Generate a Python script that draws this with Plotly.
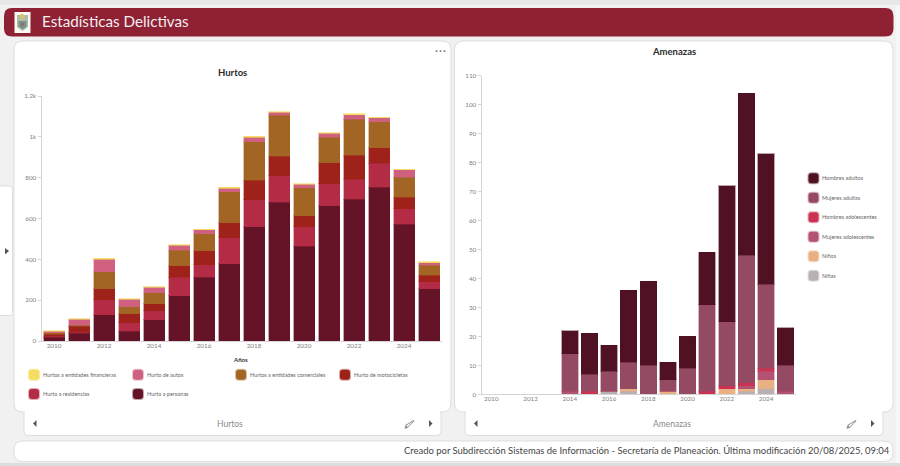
import plotly.graph_objects as go

W, H = 900, 466
FONT = "Lato"

# Hurtos por año
anios = list(range(2010, 2026))
hurto_personas = [18, 38, 129, 49, 104, 222, 312, 379, 560, 679, 463, 663, 694, 753, 571, 255]
hurto_residencias = [5, 4, 73, 41, 45, 90, 62, 127, 132, 131, 97, 108, 98, 117, 77, 36]
hurto_motocicletas = [10, 30, 53, 44, 34, 57, 68, 72, 95, 96, 54, 102, 119, 77, 56, 32]
hurtos_comerciales = [8, 6, 83, 34, 54, 75, 83, 153, 189, 199, 137, 125, 175, 127, 98, 48]
hurto_autos = [8, 28, 62, 36, 26, 25, 20, 17, 23, 15, 16, 19, 23, 20, 36, 13]
hurtos_financieras = [1, 4, 6, 3, 3, 3, 3, 6, 5, 3, 4, 3, 4, 3, 4, 3]

# Amenazas por año
hombres_adultos = [0, 0, 0, 0, 8, 14, 9, 25, 29, 6, 11, 18, 47, 56, 45, 13]
mujeres_adultas = [0, 0, 0, 0, 13, 6, 7, 9, 10, 4, 9, 30, 22, 44, 29, 9]
hombres_adolescentes = [0, 0, 0, 0, 0, 1, 0, 0, 0, 0, 0, 1, 1, 1, 1, 0]
mujeres_adolescentes = [0, 0, 0, 0, 1, 0, 0, 0, 0, 0, 0, 0, 0, 1, 3, 1]
ninos = [0, 0, 0, 0, 0, 0, 0, 1, 0, 1, 0, 0, 2, 1, 3, 0]
ninas = [0, 0, 0, 0, 0, 0, 1, 1, 0, 0, 0, 0, 0, 1, 2, 0]

series_hurtos = [
    ("Hurto a personas", hurto_personas, "#651327", "rgba(101,19,39,0.38)"),
    ("Hurto a residencias", hurto_residencias, "#b32b45", "rgba(179,43,69,0.38)"),
    ("Hurto de motocicletas", hurto_motocicletas, "#9e2219", "rgba(158,34,25,0.38)"),
    ("Hurtos a entidades comerciales", hurtos_comerciales, "#a26524", "rgba(162,101,36,0.38)"),
    ("Hurto de autos", hurto_autos, "#d06080", "rgba(208,96,128,0.38)"),
    ("Hurtos a entidades financieras", hurtos_financieras, "#f5dc62", "rgba(245,220,98,0.6)"),
]
series_amenazas = [
    ("Niñas", ninas, "#b8b0b3", "rgba(184,176,179,0.38)"),
    ("Niños", ninos, "#e9b084", "rgba(233,176,132,0.38)"),
    ("Mujeres adolescentes", mujeres_adolescentes, "#b35272", "rgba(179,82,114,0.38)"),
    ("Hombres adolescentes", hombres_adolescentes, "#cc3352", "rgba(204,51,82,0.38)"),
    ("Mujeres adultas", mujeres_adultas, "#944a62", "rgba(148,74,98,0.38)"),
    ("Hombres adultos", hombres_adultos, "#501123", "rgba(80,17,35,0.38)"),
]

marca_y = ["0", "200", "400", "600", "800", "1k", "1,2k"]
marca_y_val = [0, 200, 400, 600, 800, 1000, 1200]


def px(x):
    return x / W


def py(y):
    return 1 - y / H


def round_path(x0, y0, x1, y1, r):
    """Rounded rectangle given in page pixels, as a paper-space SVG path."""
    def p(a, b):
        return f"{px(a):.5f},{py(b):.5f}"
    return (
        f"M{p(x0 + r, y0)} L{p(x1 - r, y0)} Q{p(x1, y0)} {p(x1, y0 + r)} "
        f"L{p(x1, y1 - r)} Q{p(x1, y1)} {p(x1 - r, y1)} L{p(x0 + r, y1)} "
        f"Q{p(x0, y1)} {p(x0, y1 - r)} L{p(x0, y0 + r)} Q{p(x0, y0)} {p(x0 + r, y0)} Z"
    )


def poly_path(points):
    return "M" + " L".join(f"{px(a):.5f},{py(b):.5f}" for a, b in points) + " Z"


shapes = []


def box(x0, y0, x1, y1, r, fill, line=None, lw=1):
    shapes.append(dict(
        type="path", path=round_path(x0, y0, x1, y1, r), xref="paper", yref="paper",
        fillcolor=fill, line=dict(color=line or "rgba(0,0,0,0)", width=lw if line else 0),
        layer="below",
    ))


def poly(points, fill):
    shapes.append(dict(
        type="path", path=poly_path(points), xref="paper", yref="paper",
        fillcolor=fill, line=dict(width=0), layer="below",
    ))


EDGE = "#dedede"
# Page background bands
shapes.append(dict(type="rect", xref="paper", yref="paper", x0=0, x1=1, y0=py(5), y1=1,
                   fillcolor="#e7e7e7", line=dict(width=0), layer="below"))
shapes.append(dict(type="rect", xref="paper", yref="paper", x0=0, x1=1, y0=0, y1=py(463),
                   fillcolor="#dcdcdc", line=dict(width=0), layer="below"))
shapes.append(dict(type="rect", xref="paper", yref="paper", x0=px(896), x1=1, y0=py(463), y1=py(5),
                   fillcolor="#f7f7f7", line=dict(width=0), layer="below"))

# Header bar and crest
box(4, 8, 893.5, 36.5, 8, "#8f2134")
shapes.append(dict(type="rect", xref="paper", yref="paper", x0=px(14.5), x1=px(30.5), y0=py(33), y1=py(12),
                   fillcolor="#fbfaf2", line=dict(width=0), layer="below"))
poly([(17, 15), (28, 15), (28, 27), (22.5, 31), (17, 27)], "#b4bca4")
poly([(18.5, 21), (26.5, 21), (26.5, 26.5), (22.5, 29.5), (18.5, 26.5)], "#6f9498")
poly([(20.5, 14), (23.5, 14), (25, 18.5), (20.5, 18.5)], "#d9c46e")
poly([(21, 23), (24, 23), (24, 26), (21, 26)], "#a6694f")

# Collapsed side panel
box(-6, 186, 12.5, 315.5, 3, "#ffffff", EDGE)

# Left card with tab strip
box(24, 400, 441, 435.5, 4, "#ffffff", EDGE)
box(14, 41, 451, 412, 9, "#ffffff", EDGE)
# Right card with tab strip
box(465, 400, 883, 435.5, 4, "#ffffff", EDGE)
box(454.5, 41, 893, 412, 9, "#ffffff", EDGE)
# Hide the seam where each card meets its tab
shapes.append(dict(type="rect", xref="paper", yref="paper", x0=px(25), x1=px(440), y0=py(416), y1=py(405),
                   fillcolor="#ffffff", line=dict(width=0), layer="below"))
shapes.append(dict(type="rect", xref="paper", yref="paper", x0=px(466), x1=px(882), y0=py(416), y1=py(405),
                   fillcolor="#ffffff", line=dict(width=0), layer="below"))
# Footer
box(14, 441, 893, 461.5, 9, "#ffffff", EDGE)

# Expand arrow, menu dots and tab controls
ICON = "#555555"
poly([(5, 248), (9, 251), (5, 254.5)], ICON)
for cx in (436.5, 440.5, 444.5):
    box(cx - 0.9, 50.2, cx + 0.9, 52, 0.5, "#7a7a7a")
for left, right, pencil in ((34, 431, 410), (475, 873, 852)):
    poly([(left + 2.5, 420), (left - 1, 423.5), (left + 2.5, 427)], ICON)
    poly([(right - 2, 420), (right + 1.5, 423.5), (right - 2, 427)], ICON)
    poly([(pencil - 4.5, 425), (pencil + 3.5, 420), (pencil + 4.5, 421), (pencil - 2.5, 428),
          (pencil - 5.5, 429)], "#8f8f8f")
    poly([(pencil - 3.5, 425.5), (pencil + 3.5, 421), (pencil - 2.5, 427)], "#ffffff")

# Legend swatches and labels
annotations = []


def label(x, y, text, size, color="#555555", bold=False, anchor="left"):
    annotations.append(dict(
        x=px(x), y=py(y), xref="paper", yref="paper", showarrow=False, text=f"<b>{text}</b>" if bold else text,
        xanchor=anchor, yanchor="middle", font=dict(family=FONT, size=size, color=color),
    ))


def legend_item(x, y, name, color, halo):
    box(x - 1, y - 6, x + 11, y + 6, 3.5, halo)
    box(x, y - 5, x + 10, y + 5, 3, color)
    label(x + 11.5, y, name, 5.5, color="#666666")


lookup_h = {s[0]: s for s in series_hurtos}
posiciones_h = [
    ("Hurtos a entidades financieras", 29, 374.7),
    ("Hurto de autos", 133, 374.7),
    ("Hurtos a entidades comerciales", 236, 374.7),
    ("Hurto de motocicletas", 340, 374.7),
    ("Hurto a residencias", 29, 394),
    ("Hurto a personas", 133, 394),
]
for name, x, y in posiciones_h:
    legend_item(x, y, name, lookup_h[name][2], lookup_h[name][3])

lookup_a = {s[0]: s for s in series_amenazas}
posiciones_a = [
    ("Hombres adultos", 178.3), ("Mujeres adultas", 197.8), ("Hombres adolescentes", 217.2),
    ("Mujeres adolescentes", 236.8), ("Niños", 256.3), ("Niñas", 275.7),
]
for name, y in posiciones_a:
    legend_item(808.5, y, name, lookup_a[name][2], lookup_a[name][3])

# Titles and texts
label(39.5, 21.5, "Estadísticas Delictivas", 15.2, color="#f4eef0")
label(232.5, 73, "Hurtos", 9.5, color="#2b2b2b", bold=True, anchor="center")
label(240.5, 359, "Años", 6, color="#333333", bold=True, anchor="center")
label(673.5, 51.5, "Amenazas", 9.5, color="#2b2b2b", bold=True, anchor="center")
label(230, 423.5, "Hurtos", 8.5, color="#8a8a8a", anchor="center")
label(671.5, 423.5, "Amenazas", 8.5, color="#8a8a8a", anchor="center")
label(891.5, 450.5, "Creado por Subdirección Sistemas de Información - Secretaría de Planeación. "
      "Última modificación 20/08/2025, 09:04", 9.45, color="#444444", anchor="right")

fig = go.Figure()
for name, values, color, edge in series_hurtos:
    fig.add_bar(x=anios, y=values, name=name, marker=dict(color=color, line=dict(color=edge, width=1)),
                xaxis="x", yaxis="y", showlegend=False)
for name, values, color, edge in series_amenazas:
    fig.add_bar(x=anios, y=values, name=name, marker=dict(color=color, line=dict(color=edge, width=1)),
                xaxis="x2", yaxis="y2", showlegend=False)

axis_x = dict(
    range=[2009.5, 2025.5], tickmode="array", tickvals=list(range(2010, 2025, 2)),
    ticks="", showgrid=False, zeroline=False, showline=True, linecolor="#d4d4d4", linewidth=1,
    tickfont=dict(family=FONT, size=6.3, color="#808080"), automargin=False, ticklabelstandoff=-2,
)
axis_y = dict(
    showgrid=False, zeroline=False, showline=True, linecolor="#d4d4d4", linewidth=1,
    ticks="outside", ticklen=3, tickcolor="#d4d4d4",
    tickfont=dict(family=FONT, size=6.3, color="#808080"), automargin=False,
)

fig.update_layout(
    width=W, height=H, margin=dict(l=0, r=0, t=0, b=0),
    paper_bgcolor="#f1f1f1", plot_bgcolor="rgba(0,0,0,0)",
    barmode="stack", bargap=0.16, showlegend=False,
    xaxis=dict(axis_x, domain=[px(41.5), px(441.5)], anchor="y"),
    yaxis=dict(axis_y, domain=[py(341), py(96)], anchor="x", range=[0, 1200],
               tickmode="array", tickvals=marca_y_val, ticktext=marca_y),
    xaxis2=dict(axis_x, domain=[px(481.5), px(795.5)], anchor="y2"),
    yaxis2=dict(axis_y, domain=[py(394.3), py(75.7)], anchor="x2", range=[0, 110],
                tickmode="array", tickvals=list(range(0, 111, 10))),
    shapes=shapes, annotations=annotations,
)

fig.write_html("out.html", config=dict(displayModeBar=False))
